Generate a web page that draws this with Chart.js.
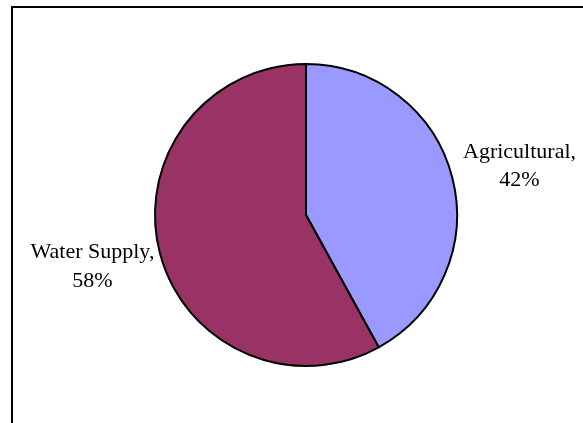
<!DOCTYPE html>
<html>
<head>
<meta charset="utf-8">
<script src="https://cdn.jsdelivr.net/npm/chart.js@4/dist/chart.umd.min.js"></script>
<style>
  html, body { margin: 0; padding: 0; background: #fff; overflow: hidden; }
  #wrap { position: relative; width: 583px; height: 423px; }
  #frame { position: absolute; left: 11px; top: 6px; width: 600px; height: 440px;
           border-left: 2px solid #000; border-top: 2px solid #000; pointer-events: none; }
  canvas { position: absolute; left: 0; top: 0; }
</style>
</head>
<body>
<div id="wrap">
  <canvas id="chart" width="583" height="423"></canvas>
  <div id="frame"></div>
</div>
<script>
// Water use by sector (percent)
const categories = ['Agricultural', 'Water Supply'];
const shares = [42, 58];
const sliceColors = ['#9999FF', '#993366'];

// Draws "Name," / "NN%" outside each slice, along the slice's mid-angle
const outsideLabels = {
  id: 'outsideLabels',
  afterDatasetsDraw(chart) {
    const ctx = chart.ctx;
    const meta = chart.getDatasetMeta(0);
    ctx.save();
    ctx.fillStyle = '#000';
    ctx.font = '22px "Liberation Serif", "Times New Roman", serif';
    ctx.textAlign = 'center';
    ctx.textBaseline = 'alphabetic';
    meta.data.forEach((arc, i) => {
      const p = arc.getProps(['x', 'y', 'startAngle', 'endAngle', 'outerRadius'], true);
      const mid = (p.startAngle + p.endAngle) / 2;
      const d = p.outerRadius * 1.46;
      const cx = p.x + Math.cos(mid) * d;
      const cy = p.y + Math.sin(mid) * d * 0.92;
      ctx.fillText(categories[i] + ',', cx, cy - 7);
      ctx.fillText(shares[i] + '%', cx, cy + 21.5);
    });
    ctx.restore();
  }
};

new Chart(document.getElementById('chart'), {
  type: 'pie',
  data: {
    labels: categories,
    datasets: [{
      data: shares,
      backgroundColor: sliceColors,
      borderColor: '#000',
      borderWidth: 2
    }]
  },
  options: {
    responsive: false,
    animation: false,
    events: [],
    radius: 151,
    layout: { padding: { left: 29, right: 0, top: 7, bottom: 0 } },
    plugins: {
      legend: { display: false },
      tooltip: { enabled: false }
    }
  },
  plugins: [outsideLabels]
});
</script>
</body>
</html>
